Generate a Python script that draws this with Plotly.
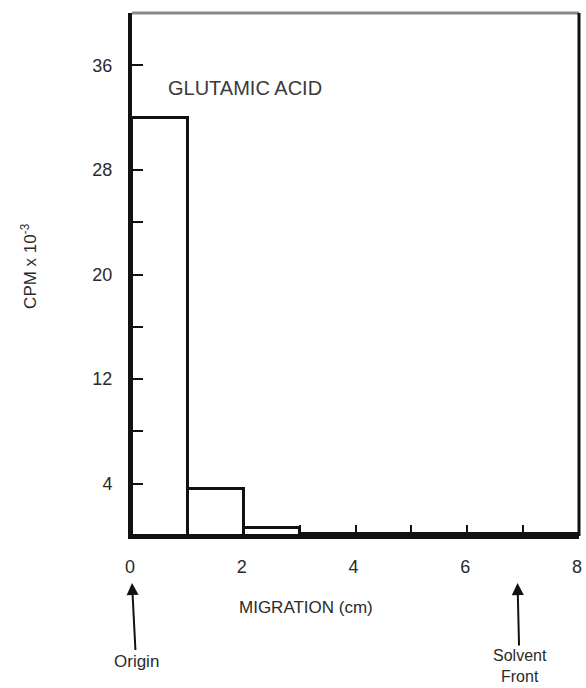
import plotly.graph_objects as go

# Radioactivity per 1 cm strip of the chromatogram
bin_left = [0, 1, 2, 3, 4, 5, 6, 7]
cpm_k = [32.0, 3.6, 0.6, 0.12, 0.12, 0.12, 0.12, 0.12]

y_label_vals = [4, 12, 20, 28, 36]
x_label_vals = [0, 2, 4, 6, 8]

origin_x = 0
solvent_front_x = 6.9

FONT = "Liberation Sans, Arial, sans-serif"
INK = "#111111"
TEXT = "#2a2a2a"

fig = go.Figure()
fig.add_trace(go.Bar(
    x=[b + 0.5 for b in bin_left],
    y=cpm_k,
    width=1,
    marker=dict(color="white", line=dict(color=INK, width=3)),
    showlegend=False,
    hoverinfo="skip",
))

# frame: grey top edge, black right edge
fig.add_shape(type="line", xref="paper", yref="paper", x0=0, x1=1, y0=1, y1=1,
              line=dict(color="#8a8a8a", width=3))
fig.add_shape(type="line", xref="paper", yref="paper", x0=1, x1=1, y0=0, y1=1,
              line=dict(color=INK, width=3))

fig.add_annotation(text="GLUTAMIC ACID", x=2.03, y=34.3, xref="x", yref="y",
                   xanchor="center", yanchor="middle",
                   showarrow=False, font=dict(family=FONT, size=20, color="#3a3a3a"))
fig.add_annotation(text="CPM x 10<sup>-3</sup>", textangle=-90, xref="paper", yref="paper",
                   x=-0.231, y=0.516, xanchor="center", yanchor="middle", showarrow=False,
                   font=dict(family=FONT, size=17, color=TEXT))
fig.add_annotation(text="MIGRATION (cm)", xref="x", yref="paper", x=3.11, y=-0.136,
                   xanchor="center", yanchor="middle",
                   showarrow=False, font=dict(family=FONT, size=17, color=TEXT))

fig.add_annotation(text="Origin", xref="x", yref="paper", x=origin_x, y=-0.09,
                   ax=4, ay=78, showarrow=True, arrowhead=2, arrowsize=1.2,
                   arrowwidth=2, arrowcolor=INK, standoff=0,
                   font=dict(family=FONT, size=17, color=TEXT))
fig.add_annotation(text="Solvent<br>Front", xref="x", yref="paper", x=solvent_front_x, y=-0.09,
                   ax=2, ay=83, showarrow=True, arrowhead=2, arrowsize=1.2,
                   arrowwidth=2, arrowcolor=INK, standoff=0,
                   font=dict(family=FONT, size=16, color=TEXT))

fig.update_layout(
    width=586, height=688,
    margin=dict(l=132, r=4, t=13, b=152),
    paper_bgcolor="white", plot_bgcolor="white",
    bargap=0,
    xaxis=dict(range=[0, 8], tickvals=x_label_vals,
               ticks="inside", ticklen=11, tickwidth=2, tickcolor=INK,
               minor=dict(tick0=0, dtick=1, ticks="inside", ticklen=11,
                          tickwidth=2, tickcolor=INK, showgrid=False),
               showline=True, linecolor=INK, linewidth=3,
               showgrid=False, zeroline=False, ticklabelstandoff=12,
               ticklabelshift=-2, ticklabeloverflow="allow",
               tickfont=dict(family=FONT, size=18, color=TEXT)),
    yaxis=dict(range=[0, 40], tickvals=y_label_vals,
               ticks="inside", ticklen=11, tickwidth=2, tickcolor=INK,
               minor=dict(tick0=0, dtick=4, ticks="inside", ticklen=11,
                          tickwidth=2, tickcolor=INK, showgrid=False),
               showline=True, linecolor=INK, linewidth=4,
               showgrid=False, zeroline=False, ticklabelstandoff=12,
               tickfont=dict(family=FONT, size=18, color=TEXT)),
)

fig.write_html("out.html")
